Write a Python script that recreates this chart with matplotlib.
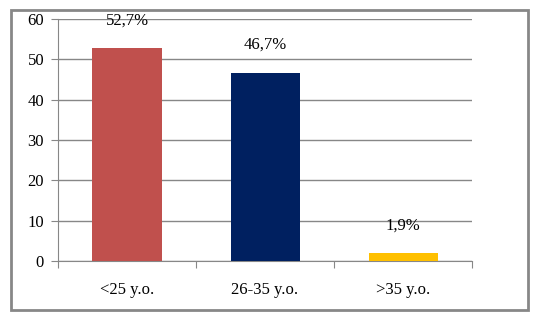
import matplotlib.pyplot as plt
from matplotlib.patches import Rectangle

# данные
categories = ['<25 y.o.', '26-35 y.o.', '>35 y.o.']
values = [52.7, 46.7, 1.9]
labels = ['52,7%', '46,7%', '1,9%']
colors = ['#C0504D', '#002060', '#FFC000']

plt.rcParams['font.family'] = ['Liberation Serif', 'DejaVu Serif']

fig = plt.figure(figsize=(5.37, 3.2), dpi=100)
ax = fig.add_axes([0.108, 0.184, 0.771, 0.757])

# рамка вокруг диаграммы
fig.patches.append(Rectangle((0.0205, 0.031), 0.963, 0.9375, transform=fig.transFigure,
                             fill=False, edgecolor='#878787', linewidth=2))

x = range(len(categories))
ax.bar(x, values, width=0.5, color=colors, zorder=3)

for i, (v, lab) in enumerate(zip(values, labels)):
    ax.annotate(lab, (i, v), xytext=(0, 28), textcoords='offset pixels',
                ha='center', va='center', fontsize=12)

ax.set_xlim(-0.5, 2.5)
ax.set_ylim(0, 60)
ax.set_yticks(range(0, 61, 10))
ax.set_xticks([-0.5, 0.5, 1.5, 2.5], minor=False)
ax.set_xticklabels([])
ax.set_xticks(list(x), minor=True)
ax.set_xticklabels(categories, minor=True)
ax.tick_params(axis='x', which='minor', length=0, pad=15, labelsize=12)
ax.tick_params(axis='x', which='major', length=5, color='#878787')
ax.tick_params(axis='y', length=5, color='#878787', labelsize=12, pad=5)

ax.grid(axis='y', color='#878787', linewidth=1, zorder=0)
for s in ['top', 'right']:
    ax.spines[s].set_visible(False)
ax.spines['left'].set_color('#878787')
ax.spines['bottom'].set_color('#878787')

fig.savefig('out.png', dpi=100)
